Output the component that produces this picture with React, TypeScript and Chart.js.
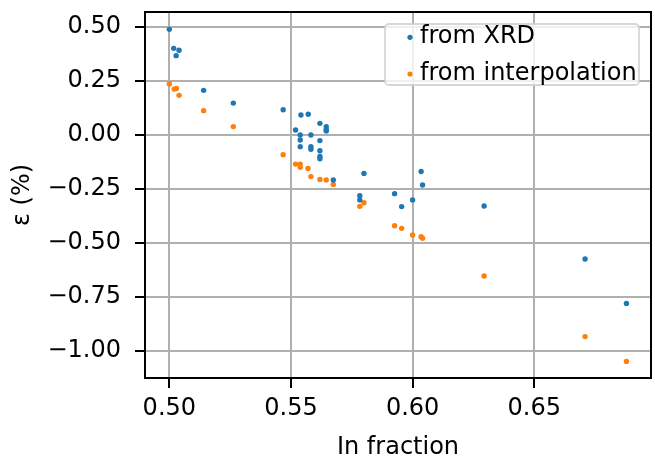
import React, { useEffect, useRef } from 'react';
import { Chart, registerables } from 'chart.js';

Chart.register(...registerables);

// ---- Data ----
const xrdX = [
  0.5, 0.5018, 0.504, 0.5028, 0.5141, 0.5263, 0.5468, 0.5541, 0.5571, 0.5519,
  0.5619, 0.5645, 0.5645, 0.5645, 0.5538, 0.5538, 0.5582, 0.5619, 0.5538, 0.5582,
  0.5582, 0.5619, 0.5619, 0.5619, 0.5674, 0.58, 0.5783, 0.5783, 0.5926, 0.5955,
  0.6, 0.6035, 0.6041, 0.6294, 0.6709, 0.6879,
];
const xrdY = [
  0.49, 0.402, 0.393, 0.368, 0.207, 0.148, 0.117, 0.093, 0.096, 0.023,
  0.054, 0.039, 0.026, 0.019, 0.0, -0.023, 0.0, -0.026, -0.054, -0.054,
  -0.066, -0.073, -0.1, -0.11, -0.209, -0.178, -0.282, -0.301, -0.272, -0.332,
  -0.301, -0.169, -0.232, -0.329, -0.575, -0.781,
];
const interpX = [
  0.5, 0.502, 0.5029, 0.504, 0.5141, 0.5263, 0.5468, 0.5519, 0.5538, 0.5538,
  0.557, 0.5582, 0.5619, 0.5645, 0.5674, 0.58, 0.5783, 0.5926, 0.5955, 0.6,
  0.6035, 0.6041, 0.6294, 0.6709, 0.6879,
];
const interpY = [
  0.237, 0.213, 0.216, 0.184, 0.113, 0.039, -0.091, -0.135, -0.135, -0.15,
  -0.155, -0.193, -0.206, -0.209, -0.229, -0.314, -0.331, -0.421, -0.433, -0.464,
  -0.472, -0.479, -0.654, -0.935, -1.05,
];
const seriesLabels = ['from XRD', 'from interpolation'];
const seriesColors = ['#1f77b4', '#ff7f0e'];
const xTicks = [0.5, 0.55, 0.6, 0.65];
const yTicks = [-1.0, -0.75, -0.5, -0.25, 0.0, 0.25, 0.5];
const xTitle = 'In fraction';
const yTitle = 'ε (%)';

const FAMILY = '"DejaVu Sans", sans-serif';
const FS = 24;
const fmt = (v: number) => v.toFixed(2).replace('-', '\u2212');

const frameAndLegend = {
  id: 'frameAndLegend',
  afterDraw(chart: any) {
    const { ctx, chartArea: a } = chart;
    ctx.save();
    // axes frame
    ctx.strokeStyle = '#000';
    ctx.lineWidth = 2;
    ctx.strokeRect(a.left, a.top, a.right - a.left, a.bottom - a.top);
    // legend box
    const bw = 254;
    const bh = 61;
    const bx = a.right - 12 - bw;
    const by = a.top + 12;
    ctx.beginPath();
    (ctx as any).roundRect(bx, by, bw, bh, 4);
    ctx.fillStyle = 'rgba(255,255,255,0.8)';
    ctx.fill();
    ctx.strokeStyle = 'rgba(204,204,204,0.8)';
    ctx.lineWidth = 1.8;
    ctx.stroke();
    ctx.font = `${FS}px ${FAMILY}`;
    ctx.textAlign = 'left';
    ctx.textBaseline = 'alphabetic';
    const baselines = [by + 19, by + 55.5];
    const markerY = [by + 13.3, by + 50];
    seriesLabels.forEach((lab, i) => {
      ctx.beginPath();
      ctx.arc(bx + 25, markerY[i], 2.6, 0, Math.PI * 2);
      ctx.fillStyle = seriesColors[i];
      ctx.fill();
      ctx.fillStyle = '#000';
      ctx.fillText(lab, bx + 35, baselines[i]);
    });
    ctx.restore();
  },
};

export default function App() {
  const ref = useRef<HTMLCanvasElement | null>(null);
  useEffect(() => {
    if (!ref.current) return;
    const chart = new Chart(ref.current, {
      type: 'scatter',
      data: {
        datasets: [
          {
            label: seriesLabels[0],
            data: xrdX.map((x, i) => ({ x, y: xrdY[i] })),
            backgroundColor: seriesColors[0],
            borderWidth: 0,
            pointRadius: 2.7,
          },
          {
            label: seriesLabels[1],
            data: interpX.map((x, i) => ({ x, y: interpY[i] })),
            backgroundColor: seriesColors[1],
            borderWidth: 0,
            pointRadius: 2.7,
          },
        ],
      },
      options: {
        animation: false,
        responsive: false,
        maintainAspectRatio: false,
        layout: { padding: { top: 12, right: 4, left: 0, bottom: 0 } },
        plugins: { legend: { display: false }, tooltip: { enabled: false } },
        scales: {
          x: {
            type: 'linear',
            min: 0.49,
            max: 0.698,
            z: 1,
            afterBuildTicks: (s: any) => {
              s.ticks = xTicks.map((v) => ({ value: v }));
            },
            afterFit: (s: any) => {
              s.height = 81;
              s.paddingLeft = 0;
              s.paddingRight = 0;
            },
            grid: {
              color: '#b0b0b0',
              lineWidth: 2,
              tickColor: '#000',
              tickLength: 10,
              tickWidth: 2,
              drawTicks: true,
            },
            border: { display: false },
            ticks: {
              color: '#000',
              font: { family: FAMILY, size: FS },
              padding: 6,
              maxRotation: 0,
              autoSkip: false,
              callback: (v: any) => fmt(Number(v)),
            },
            title: {
              display: true,
              text: xTitle,
              color: '#000',
              font: { family: FAMILY, size: FS },
              padding: { top: 0, bottom: -3 },
            },
          },
          y: {
            type: 'linear',
            min: -1.127,
            max: 0.5705,
            z: 1,
            afterBuildTicks: (s: any) => {
              s.ticks = yTicks.map((v) => ({ value: v }));
            },
            afterFit: (s: any) => {
              s.width = 145;
              s.paddingTop = 0;
              s.paddingBottom = 0;
            },
            grid: {
              color: '#b0b0b0',
              lineWidth: 2,
              tickColor: '#000',
              tickLength: 10,
              tickWidth: 2,
              drawTicks: true,
            },
            border: { display: false },
            ticks: {
              color: '#000',
              font: { family: FAMILY, size: FS },
              padding: 14,
              autoSkip: false,
              callback: (v: any) => fmt(Number(v)),
            },
            title: {
              display: true,
              text: yTitle,
              color: '#000',
              font: { family: FAMILY, size: FS },
              padding: { top: 8, bottom: 0 },
            },
          },
        },
      },
      plugins: [frameAndLegend],
    } as any);
    return () => chart.destroy();
  }, []);
  return (
    <div style={{ position: 'absolute', left: 0, top: 0, width: 655, height: 459 }}>
      <canvas ref={ref} width={655} height={459} style={{ display: 'block' }} />
    </div>
  );
}
